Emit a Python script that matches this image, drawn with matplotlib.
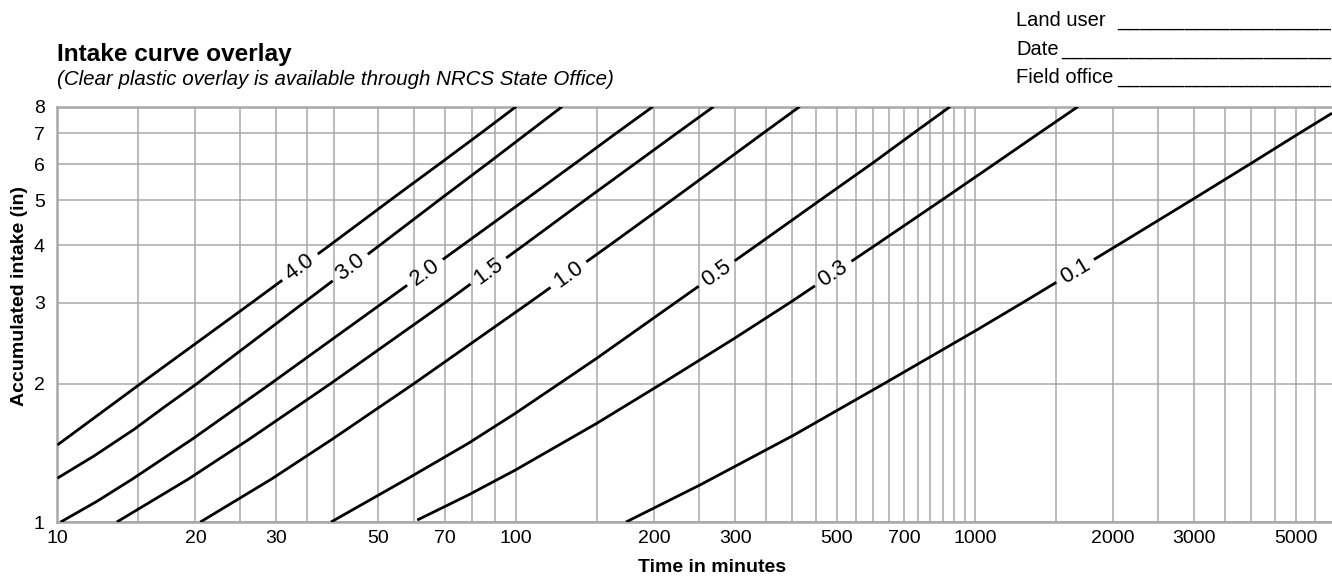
import numpy as np
import matplotlib.pyplot as plt
from matplotlib.ticker import FixedLocator, NullLocator, NullFormatter
from matplotlib.path import Path
from matplotlib.transforms import IdentityTransform

plt.rcParams['font.family'] = ['Liberation Sans', 'DejaVu Sans']

# intake family curves: time (min) vs accumulated intake (in)
f40_t = [10, 15.15, 26.8, 39.3, 53.9, 68.6, 83.4, 100]
f40_y = [1.47, 1.995, 3.02, 4.0, 5.06, 6.04, 6.98, 8]

f30_t = [10, 12, 14.7, 17.2, 20.1, 34.8, 50.5, 68.8, 87.1, 105.3, 126]
f30_y = [1.245, 1.39, 1.59, 1.785, 1.995, 3.02, 4.0, 5.06, 6.04, 6.98, 8]

f20_t = [10.17, 12.2, 14.58, 19.7, 29.1, 51.8, 76.5, 105.9, 135.1, 164.5, 198.7]
f20_y = [1.0, 1.109, 1.24, 1.515, 1.995, 3.02, 4.0, 5.06, 6.04, 6.98, 8]

f15_t = [13.48, 19.31, 26.1, 39.3, 70.7, 104, 143.2, 182.8, 223, 269.5]
f15_y = [1.0, 1.24, 1.51, 1.995, 3.02, 4.0, 5.06, 6.04, 6.98, 8]

f10_t = [20.5, 29.3, 39.6, 59.7, 107.9, 160, 221.4, 282.3, 343.9, 415]
f10_y = [1.0, 1.24, 1.51, 1.995, 3.02, 4.0, 5.06, 6.04, 6.98, 8]

f05_t = [39.5, 58.2, 78.7, 99.6, 123.8, 149.9, 224.7, 335, 466.6, 599.8, 731.1, 883]
f05_y = [1.0, 1.245, 1.483, 1.723, 1.995, 2.27, 3.02, 4.0, 5.06, 6.04, 6.98, 8]

f03_t = [60.9, 78.7, 99.6, 149.9, 207, 299, 399.4, 607.3, 859, 1112.6, 1373, 1677]
f03_y = [1.01, 1.145, 1.297, 1.639, 1.995, 2.507, 3.02, 4.0, 5.06, 6.04, 6.98, 8]

f01_t = [173.6, 251.7, 299, 402, 631.3, 1009, 1286, 2048, 3013, 4018, 5068, 6000]
f01_y = [1.0, 1.204, 1.319, 1.543, 1.995, 2.615, 3.02, 4.0, 5.06, 6.04, 6.98, 7.74]

families = ['4.0', '3.0', '2.0', '1.5', '1.0', '0.5', '0.3', '0.1']
curves_t = [f40_t, f30_t, f20_t, f15_t, f10_t, f05_t, f03_t, f01_t]
curves_y = [f40_y, f30_y, f20_y, f15_y, f10_y, f05_y, f03_y, f01_y]
label_t = [33.8, 43.5, 63.3, 87, 130, 273.6, 491, 1653]

# axis ticks and the printed grid
x_ticks = [10, 20, 30, 50, 70, 100, 200, 300, 500, 700, 1000, 2000, 3000, 5000]
x_grid = ([15, 20, 25, 30, 35, 40, 50, 60, 70, 80, 90, 100]
          + list(range(150, 1001, 50)) + list(range(1500, 5501, 500)))
y_ticks = [1, 2, 3, 4, 5, 6, 7, 8]

grid_col = '#a8a8a8'

fig = plt.figure(figsize=(13.32, 5.79), dpi=100)
ax = fig.add_axes([0.043, 0.0984, 0.957, 0.7175])
ax.set_xscale('log')
ax.set_yscale('log')
ax.set_xlim(10, 6000)
ax.set_ylim(1, 8)

ax.xaxis.set_major_locator(FixedLocator(x_ticks))
ax.set_xticklabels([str(v) for v in x_ticks])
ax.xaxis.set_minor_locator(FixedLocator(x_grid))
ax.xaxis.set_minor_formatter(NullFormatter())
ax.yaxis.set_major_locator(FixedLocator(y_ticks))
ax.set_yticklabels([str(v) for v in y_ticks])
ax.yaxis.set_minor_locator(NullLocator())
ax.tick_params(axis='both', which='both', length=0, labelsize=14)
ax.tick_params(axis='x', pad=6)
ax.tick_params(axis='y', pad=9)

ax.grid(True, which='both', axis='x', color=grid_col, lw=1.1)
ax.grid(True, which='major', axis='y', color=grid_col, lw=1.1)
ax.set_axisbelow(True)
for side in ['left', 'bottom', 'top']:
    ax.spines[side].set_color(grid_col)
    ax.spines[side].set_linewidth(1.8)
ax.spines['right'].set_visible(False)

# curves with a break where the family label sits
x0, y0, x1, y1 = ax.bbox.extents
half_gap, half_h = 22, 13
box_codes = [Path.MOVETO, Path.LINETO, Path.LINETO, Path.LINETO, Path.CLOSEPOLY]
for fam, t, y, lt in zip(families, curves_t, curves_y, label_t):
    line, = ax.plot(t, y, color='black', lw=2.0, zorder=3,
                    solid_capstyle='butt', solid_joinstyle='round')
    lt_log = np.log10(t)
    ly_log = np.log10(y)
    yl = 10 ** np.interp(np.log10(lt), lt_log, ly_log)
    ya = 10 ** np.interp(np.log10(lt / 1.1), lt_log, ly_log)
    yb = 10 ** np.interp(np.log10(lt * 1.1), lt_log, ly_log)
    p = ax.transData.transform([(lt / 1.1, ya), (lt * 1.1, yb)])
    a = np.arctan2(p[1, 1] - p[0, 1], p[1, 0] - p[0, 0])
    c = ax.transData.transform((lt, yl))
    u = np.array([np.cos(a), np.sin(a)])
    n = np.array([-np.sin(a), np.cos(a)])
    hole = [c - half_gap * u - half_h * n, c - half_gap * u + half_h * n,
            c + half_gap * u + half_h * n, c + half_gap * u - half_h * n]
    verts = ([(x0, y0), (x1, y0), (x1, y1), (x0, y1), (x0, y0)]
             + [tuple(v) for v in hole] + [tuple(hole[0])])
    line.set_clip_path(Path(verts, box_codes * 2), IdentityTransform())
    ax.text(lt, yl, fam, fontsize=16, rotation=np.degrees(a), rotation_mode='anchor',
            ha='center', va='center', zorder=4)

W, H = 1332, 579
fig.text(57 / W, 1 - 61 / H, 'Intake curve overlay', fontsize=17.6,
         fontweight='bold', va='baseline')
fig.text(57 / W, 1 - 85 / H,
         '(Clear plastic overlay is available through NRCS State Office)',
         fontsize=14.8, style='italic', va='baseline')

for txt, base, n_us in [('Land user', 26, 19), ('Date', 55, 24), ('Field office', 83, 19)]:
    fig.text(1016 / W, 1 - base / H, txt, fontsize=14.5, va='baseline')
    fig.text(1331 / W, 1 - base / H, '_' * n_us, fontsize=14.5, va='baseline', ha='right')

fig.text(20 / W, 1 - 296 / H, 'Accumulated intake (in)', rotation=90,
         fontsize=14, fontweight='bold', ha='center', va='center')
fig.text(712 / W, 1 - 567 / H, 'Time in minutes', fontsize=14,
         fontweight='bold', ha='center', va='center')

fig.savefig('out.png', dpi=100)
